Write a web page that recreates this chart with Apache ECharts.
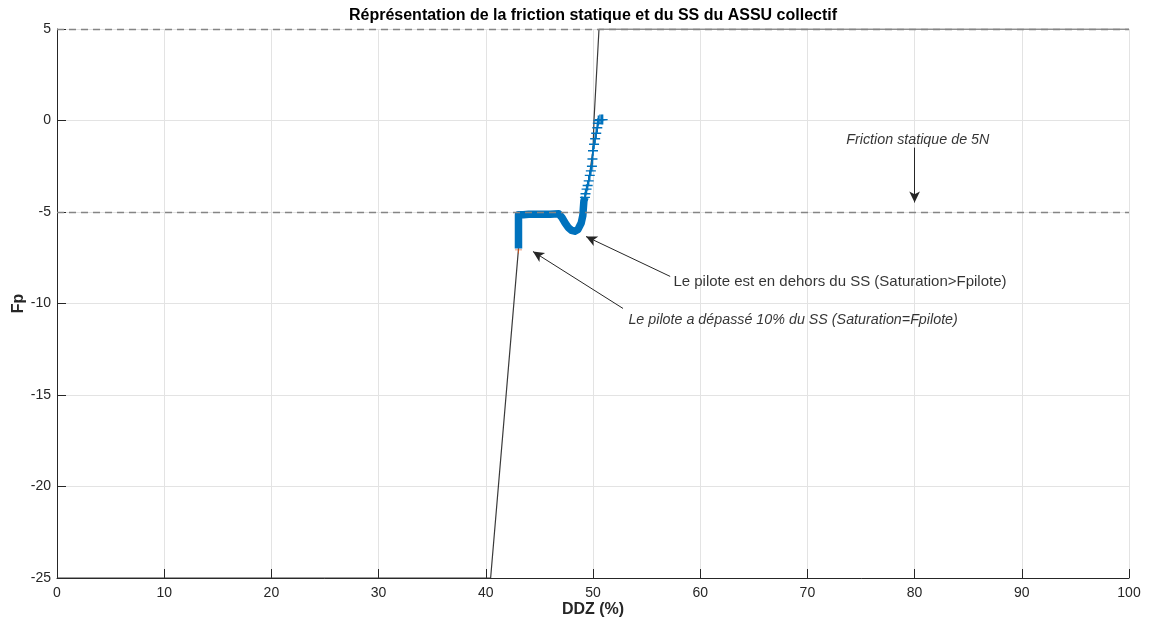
<!DOCTYPE html>
<html>
<head>
<meta charset="utf-8">
<script src="https://cdn.jsdelivr.net/npm/echarts@6/dist/echarts.min.js"></script>
<style>html,body{margin:0;padding:0;background:#fff;}#c{width:1149px;height:628px;}</style>
</head>
<body>
<div id="c"></div>
<script>
// ---- data ----
const xTicks = [0,10,20,30,40,50,60,70,80,90,100];
const yTicks = [-25,-20,-15,-10,-5,0,5];
const titleText = 'Réprésentation de la friction statique et du SS du ASSU collectif';
const xName = 'DDZ (%)';
const yName = 'Fp';
// saturation envelope (black line)
const satLine = [[0,-25],[40.45,-25],[43.05,-7.0],[43.05,-5.15],[46.8,-5.12],[47.4,-5.6],[48.0,-6.0],[48.6,-5.95],[49.0,-5.4],[49.2,-4.4],[49.6,-3.3],[50.0,-1.6],[50.1,0.1],[50.56,5],[100,5]];
// pilot force, dense part (appears as a thick band)
const pilotDense = [[43.05,-7.0],[43.05,-6.5],[43.05,-6.0],[43.05,-5.5],[43.05,-5.15],[43.5,-5.15],[44,-5.12],[45,-5.12],[46,-5.12],[46.8,-5.1],[47.1,-5.3],[47.4,-5.6],[47.7,-5.85],[48.0,-6.0],[48.3,-6.05],[48.6,-5.95],[48.9,-5.6],[49.05,-5.2],[49.1,-4.8],[49.15,-4.4],[49.25,-4.2]];
// pilot force, sparse part (+ markers)
const pilotSparse = [[49.25,-4.2],[49.3,-4.0],[49.4,-3.75],[49.5,-3.55],[49.6,-3.3],[49.7,-3.0],[49.8,-2.75],[49.9,-2.5],[49.95,-2.1],[50.0,-1.65],[50.1,-1.3],[50.2,-1.0],[50.3,-0.7],[50.4,-0.4],[50.45,-0.15],[50.5,0.0],[50.65,0.05],[50.8,0.05],[50.9,0.05]];
// point where saturation = pilot force
const satPoint = [[43.05,-7.07]];
// annotations
const annTexts = ['Friction statique de 5N','Le pilote est en dehors du SS (Saturation>Fpilote)','Le pilote a dépassé 10% du SS (Saturation=Fpilote)'];
const annPos = [[80.3,-1.04],[57.5,-8.8],[53.3,-10.93]];
const arrowFrom = [[80,-1.48],[57.2,-8.52],[52.8,-10.27]];
const arrowTo = [[80,-4.48],[49.35,-6.34],[44.4,-7.16]];
const refLevels = [5,-5];

const FONT = '"Liberation Sans", Arial, Helvetica, sans-serif';
const axisCol = '#262626';
const blue = '#0072BD';

const chart = echarts.init(document.getElementById('c'), null, {renderer:'canvas'});

const plusPath = 'path://M4.3,0h1.4v10h-1.4z M0,4.3h10v1.4h-10z';

const option = {
  animation: false,
  backgroundColor: '#fff',
  grid: {left: 57, right: 20, top: 29, bottom: 50, containLabel: false, outerBoundsMode: 'none'},
  graphic: [{
    type: 'text', x: 593, y: 16,
    style: {text: titleText, font: 'bold 16px ' + FONT, fill: '#000', align: 'center', verticalAlign: 'middle', textAlign:'center', textVerticalAlign:'middle'}
  }],
  xAxis: {
    type: 'value', min: 0, max: 100, interval: 10,
    name: xName, nameLocation: 'middle', nameGap: 24, nameMoveOverlap: false,
    nameTextStyle: {fontFamily: FONT, fontSize: 16, fontWeight: 'bold', color: axisCol, verticalAlign:'top'},
    axisLine: {show: true, onZero: false, lineStyle: {color: axisCol, width: 1}},
    axisTick: {show: true, inside: true, length: 9, lineStyle: {color: axisCol}},
    axisLabel: {fontFamily: FONT, fontSize: 14, color: axisCol, margin: 8},
    splitLine: {show: true, lineStyle: {color: '#e3e3e3', width: 1}}
  },
  yAxis: {
    type: 'value', min: -25, max: 5, interval: 5,
    name: yName, nameLocation: 'middle', nameGap: 30, nameMoveOverlap: false,
    nameTextStyle: {fontFamily: FONT, fontSize: 16, fontWeight: 'bold', color: axisCol},
    axisLine: {show: true, onZero: false, lineStyle: {color: axisCol, width: 1}},
    axisTick: {show: true, inside: true, length: 9, lineStyle: {color: axisCol}},
    axisLabel: {fontFamily: FONT, fontSize: 14, color: axisCol, margin: 6},
    splitLine: {show: true, lineStyle: {color: '#e3e3e3', width: 1}}
  },
  series: [
    {
      type: 'line', name: 'ref', data: [], z: 1,
      markLine: {
        silent: true, symbol: ['none','none'], label: {show: false},
        lineStyle: {color: '#858585', type: [7,5], width: 1.3},
        data: refLevels.map(v => ({yAxis: v}))
      }
    },
    {
      type: 'line', name: 'saturation', data: satLine, showSymbol: false, symbol: 'none', z: 2,
      lineStyle: {color: '#3a3a3a', width: 1.2}
    },
    {
      type: 'scatter', name: 'satpoint', data: satPoint, symbol: plusPath, symbolSize: 7, z: 3,
      itemStyle: {color: '#D95319'}
    },
    {
      type: 'line', name: 'pilotDense', data: pilotDense, showSymbol: false, symbol: 'none', z: 4,
      lineStyle: {color: blue, width: 7.5, join: 'round', cap: 'butt'}
    },
    {
      type: 'line', name: 'pilotSparse', data: pilotSparse, symbol: plusPath, symbolSize: 10, showSymbol: true, z: 5,
      lineStyle: {color: blue, width: 1.5}, itemStyle: {color: blue}
    },
    {
      type: 'scatter', name: 'annText', z: 6, symbolSize: 0, silent: true,
      data: annPos.map((p,i) => ({value: p, label: {
        show: true, formatter: annTexts[i], position: 'inside',
        align: i === 0 ? 'center' : 'left', verticalAlign: 'middle',
        fontFamily: FONT, fontSize: i === 1 ? 15 : 14.3, color: '#000',
        fontStyle: i === 1 ? 'normal' : 'italic'
      }})),
      markLine: {
        silent: true, symbol: ['none','arrow'], symbolSize: [8,11], label: {show: false},
        lineStyle: {color: '#262626', type: 'solid', width: 1},
        data: arrowFrom.map((p,i) => [{coord: p}, {coord: arrowTo[i]}])
      }
    }
  ]
};
chart.setOption(option);
</script>
</body>
</html>
